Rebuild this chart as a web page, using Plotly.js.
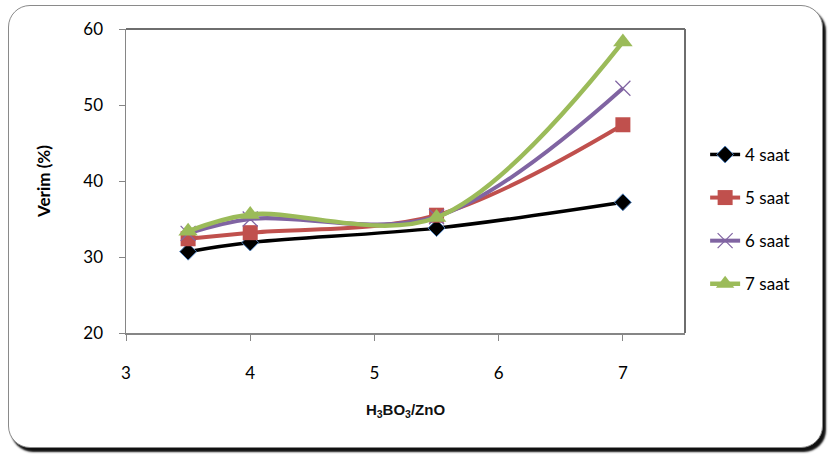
<!DOCTYPE html>
<html>
<head>
<meta charset="utf-8">
<script src="https://cdn.plot.ly/plotly-3.0.1.min.js"></script>
<style>
html,body{margin:0;padding:0;background:#fff;}
#wrap{position:relative;width:829px;height:457px;overflow:hidden;}
#frame{position:absolute;left:8px;top:5px;width:813px;height:441px;border:1.5px solid #8a8a8a;border-radius:22px;box-shadow:3px 4px 2px #111;background:#fff;}
#chart{position:absolute;left:0;top:0;width:829px;height:457px;}
</style>
</head>
<body>
<div id="wrap"><div id="frame"></div><div id="chart"></div></div>
<script>
const ratio = [3.5, 4, 5.5, 7];
const saat4 = [30.7, 31.9, 33.8, 37.2];
const saat5 = [32.4, 33.2, 35.5, 47.4];
const saat6 = [33.1, 35.0, 35.3, 52.2];
const saat7 = [33.4, 35.6, 35.2, 58.3];
const names = ['4 saat', '5 saat', '6 saat', '7 saat'];
const xTicks = [3, 4, 5, 6, 7];
const yTicks = [20, 30, 40, 50, 60];

const styles = [
  {color:'#000000', w:3.5, marker:{symbol:'diamond', size:13, color:'#000000', line:{color:'#4f81bd', width:1}}},
  {color:'#C0504D', w:4, marker:{symbol:'square', size:15, color:'#C0504D', line:{width:0}}},
  {color:'#8064A2', w:4, marker:{symbol:'x-thin-open', size:15, color:'#8064A2', line:{color:'#8064A2', width:1.2}}},
  {color:'#9BBB59', w:4.5, marker:{symbol:'triangle-up', size:17, color:'#9BBB59', line:{width:0}}}
];
const series = [saat4, saat5, saat6, saat7];
const traces = series.map((s, i) => ({
  x: ratio, y: s, name: names[i], type: 'scatter', mode: 'lines+markers',
  legendgroup: 'g' + i,
  line: {color: styles[i].color, width: styles[i].w, shape: 'spline', smoothing: 1},
  marker: styles[i].marker
}));

const tickFont = {family: 'Lato, "Open Sans", sans-serif', size: 17, color: '#000'};
const layout = {
  width: 829, height: 457,
  paper_bgcolor: 'rgba(0,0,0,0)', plot_bgcolor: '#fff',
  margin: {l: 126, r: 144, t: 29, b: 124},
  showlegend: true,
  legend: {x: 1.036, xanchor: 'left', y: 0.645, yanchor: 'top', font: tickFont,
           tracegroupgap: 18, bgcolor: 'rgba(0,0,0,0)'},
  xaxis: {range: [3, 7.5], tickvals: xTicks, ticktext: xTicks.map(String), showgrid: false, zeroline: false,
          showline: true, linecolor: '#868686', linewidth: 1.5, ticks: 'outside', ticklen: 6, tickcolor: '#868686',
          tickfont: tickFont, ticklabelstandoff: 18,
          title: {text: '<b>H<sub>3</sub>BO<sub>3</sub>/ZnO</b>', font: {family: '"Liberation Sans", Arial, sans-serif', size: 15, color: '#111'}, standoff: 22}},
  yaxis: {range: [20, 60], tickvals: yTicks, ticktext: yTicks.map(String), showgrid: false, zeroline: false,
          showline: true, linecolor: '#868686', linewidth: 1.5, ticks: 'outside', ticklen: 6, tickcolor: '#868686',
          tickfont: tickFont, ticklabelstandoff: 12,
          title: {text: '<b>Verim (%)</b>', font: {family: 'Lato, "Open Sans", sans-serif', size: 17, color: '#000'}, standoff: 28}},
  shapes: [
    {type: 'line', xref: 'paper', yref: 'paper', x0: 0, x1: 1, y0: 1, y1: 1, line: {color: '#6e6e6e', width: 2}},
    {type: 'line', xref: 'paper', yref: 'paper', x0: 1, x1: 1, y0: 0, y1: 1, line: {color: '#6e6e6e', width: 2}}
  ]
};
Plotly.newPlot('chart', traces, layout, {displayModeBar: false, staticPlot: true});
</script>
</body>
</html>
